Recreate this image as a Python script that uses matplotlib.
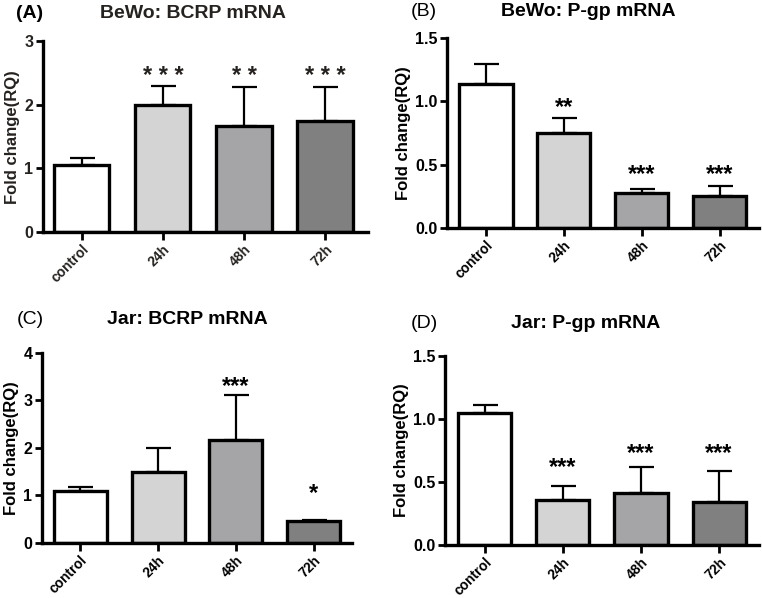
import numpy as np
import matplotlib.pyplot as plt

plt.rcParams['font.family'] = ['Liberation Sans', 'DejaVu Sans']

groups = ['control', '24h', '48h', '72h']
bar_colors = ['#ffffff', '#d4d4d4', '#a5a5a8', '#808080']

# panel data: mean fold change and upper error (SD)
bewo_bcrp = [1.05, 2.00, 1.66, 1.75]
bewo_bcrp_err = [0.11, 0.29, 0.62, 0.53]
bewo_bcrp_stars = ['', '* * *', '* *', '* * *']
bewo_bcrp_star_y = [0, 2.44, 2.44, 2.44]

bewo_pgp = [1.14, 0.75, 0.28, 0.25]
bewo_pgp_err = [0.155, 0.12, 0.03, 0.085]
bewo_pgp_stars = ['', '**', '***', '***']
bewo_pgp_star_y = [0, 0.955, 0.42, 0.42]

jar_bcrp = [1.09, 1.50, 2.16, 0.47]
jar_bcrp_err = [0.08, 0.49, 0.95, 0.01]
jar_bcrp_stars = ['', '', '***', '*']
jar_bcrp_star_y = [0, 0, 3.3, 1.05]

jar_pgp = [1.05, 0.36, 0.41, 0.34]
jar_pgp_err = [0.065, 0.11, 0.21, 0.25]
jar_pgp_stars = ['', '***', '***', '***']
jar_pgp_star_y = [0, 0.615, 0.725, 0.725]

fig = plt.figure(figsize=(7.62, 5.98), dpi=100)

panels = [
    # rect, values, errs, stars, star_y, ylim, yticks, ytick labels, letter, title, letter pos, title pos, text color, letter bold, xlim
    ([0.0564, 0.612, 0.4265, 0.319], bewo_bcrp, bewo_bcrp_err, bewo_bcrp_stars, bewo_bcrp_star_y,
     (0, 3), [0, 1, 2, 3], ['0', '1', '2', '3'], '(A)', 'BeWo: BCRP mRNA', (30, 14), (193, 14), '#262220', True, (-0.48, 3.53)),
    ([0.5866, 0.6187, 0.4094, 0.3177], bewo_pgp, bewo_pgp_err, bewo_pgp_stars, bewo_pgp_star_y,
     (0, 1.5), [0, 0.5, 1.0, 1.5], ['0.0', '0.5', '1.0', '1.5'], '(B)', 'BeWo: P-gp mRNA', (424, 11), (588, 12), 'black', False, (-0.5, 3.5)),
    ([0.0551, 0.092, 0.4068, 0.3177], jar_bcrp, jar_bcrp_err, jar_bcrp_stars, jar_bcrp_star_y,
     (0, 4), [0, 1, 2, 3, 4], ['0', '1', '2', '3', '4'], '(C)', 'Jar: BCRP mRNA', (30, 320), (187, 320), 'black', False, (-0.49, 3.49)),
    ([0.584, 0.0886, 0.412, 0.316], jar_pgp, jar_pgp_err, jar_pgp_stars, jar_pgp_star_y,
     (0, 1.5), [0, 0.5, 1.0, 1.5], ['0.0', '0.5', '1.0', '1.5'], '(D)', 'Jar: P-gp mRNA', (424, 324), (586, 324), 'black', False, (-0.51, 3.51)),
]

W, H = 762, 598
for (rect, vals, errs, stars, star_y, ylim, yt, ytl, letter, title,
     lpos, tpos, tcol, lbold, xlim) in panels:
    ax = fig.add_axes(rect)
    x = np.arange(len(groups))
    ax.errorbar(x, vals, yerr=[np.zeros(len(vals)), errs], fmt='none',
                ecolor='black', elinewidth=1.6, capsize=9, capthick=1.6, zorder=1)
    ax.bar(x, vals, width=0.68, color=bar_colors, edgecolor='black', linewidth=2.4, zorder=2)
    for xi, s, sy in zip(x, stars, star_y):
        if s:
            ax.text(xi, sy, s, ha='center', va='center', fontsize=17, fontweight='bold', color=tcol)
    ax.set_xlim(*xlim)
    ax.set_ylim(*ylim)
    ax.set_yticks(yt)
    ax.set_yticklabels(ytl, fontsize=11.5, fontweight='bold', color=tcol)
    ax.set_xticks(x)
    ax.set_xticklabels(groups, rotation=45, ha='right', va='top', rotation_mode='anchor',
                       fontsize=10, fontweight='bold', color=tcol)
    ax.set_ylabel('Fold change(RQ)', fontsize=12, fontweight='bold', color=tcol, labelpad=3)
    for side in ['top', 'right']:
        ax.spines[side].set_visible(False)
    for side in ['left', 'bottom']:
        ax.spines[side].set_linewidth(2.4)
    ax.tick_params(axis='both', width=2, length=5, pad=2)
    ax.tick_params(axis='x', length=6, pad=1.5)
    fig.text(lpos[0] / W, 1 - lpos[1] / H, letter, ha='center', va='center', fontsize=14,
             fontweight='bold' if lbold else 'normal', color='black')
    fig.text(tpos[0] / W, 1 - tpos[1] / H, title, ha='center', va='center', fontsize=14,
             fontweight='bold', color=tcol)

fig.savefig('out.png', dpi=100)
